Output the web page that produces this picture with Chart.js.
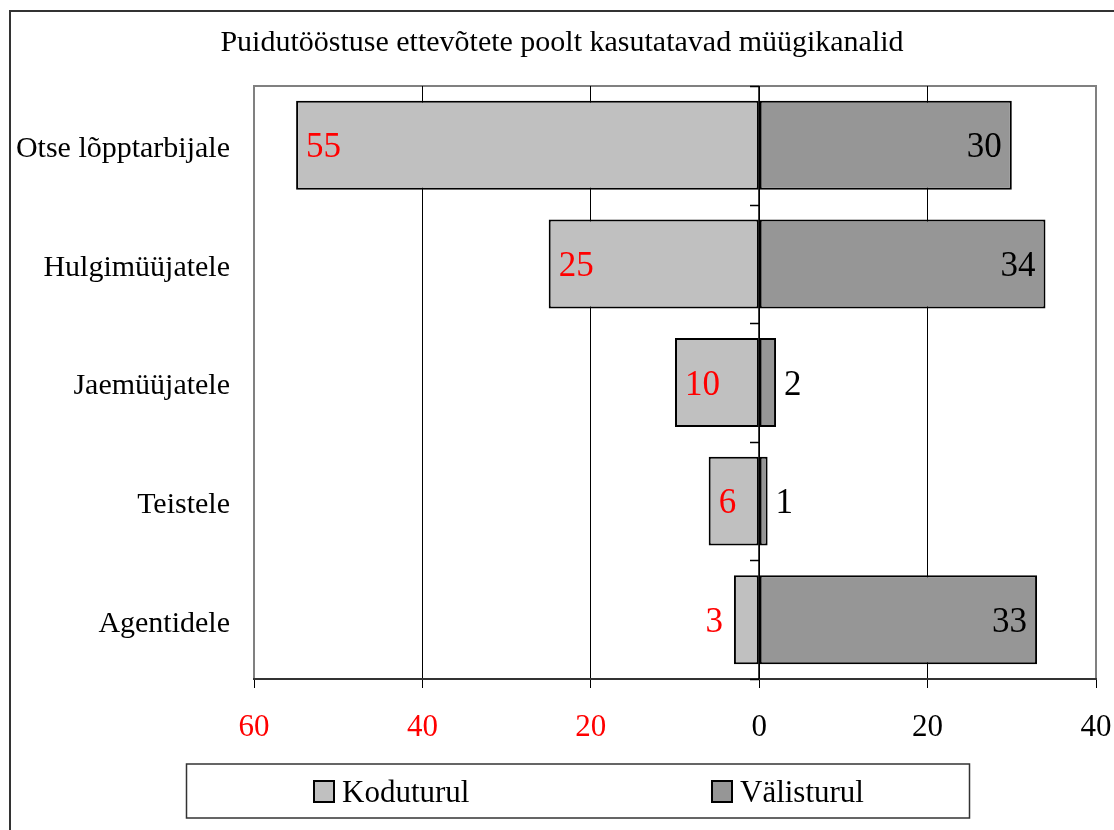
<!DOCTYPE html>
<html>
<head>
<meta charset="utf-8">
<script src="https://cdn.jsdelivr.net/npm/chart.js@4"></script>
<style>
    body { margin: 0; background: #fff; overflow: hidden; width: 1114px; height: 830px; position: relative; }
    #frame { position: absolute; left: 9px; top: 10px; width: 1200px; height: 900px; border: 2px solid #333; box-sizing: border-box; }
    #salesChart { position: absolute; left: 0; top: 0; }
</style>
</head>
<body>
<div id="frame"></div>
<canvas id="salesChart" width="1114" height="830"></canvas>
<script>
// Chart data
const channels = ['Otse lõpptarbijale', 'Hulgimüüjatele', 'Jaemüüjatele', 'Teistele', 'Agentidele'];
const domesticShare = [55, 25, 10, 6, 3];
const foreignShare = [30, 34, 2, 1, 33];
const seriesNames = ['Koduturul', 'Välisturul'];
const axisTicks = [-60, -40, -20, 0, 20, 40];
const chartTitle = 'Puidutööstuse ettevõtete poolt kasutatavad müügikanalid';

const serif = '"Liberation Serif", "Times New Roman", serif';

// Grey frame round the plot area (bottom edge is the black x axis)
const plotFrame = {
    id: 'plotFrame',
    beforeDraw(chart) {
        const { ctx, chartArea: a } = chart;
        ctx.save();
        ctx.strokeStyle = '#808080';
        ctx.lineWidth = 2;
        ctx.strokeRect(a.left, a.top, a.right - a.left, a.bottom - a.top);
        ctx.restore();
    }
};

// Vertical axis at zero with small category ticks
const zeroAxis = {
    id: 'zeroAxis',
    afterDatasetsDraw(chart) {
        const { ctx, scales: { x, y } } = chart;
        const x0 = Math.round(x.getPixelForValue(0));
        const n = chart.data.labels.length;
        const band = (y.bottom - y.top) / n;
        ctx.save();
        ctx.strokeStyle = '#000';
        ctx.lineWidth = 1.5;
        ctx.beginPath();
        ctx.moveTo(x0, y.top);
        ctx.lineTo(x0, y.bottom);
        for (let i = 0; i <= n; i++) {
            const yy = Math.round(y.top + band * i) + 0.5;
            ctx.moveTo(x0 - 9, yy);
            ctx.lineTo(x0, yy);
        }
        ctx.stroke();
        ctx.restore();
    }
};

// Value labels: red inside the domestic bars, black inside the foreign ones
const valueLabels = {
    id: 'valueLabels',
    afterDatasetsDraw(chart) {
        const ctx = chart.ctx;
        ctx.save();
        ctx.font = '35px ' + serif;
        ctx.textBaseline = 'middle';
        chart.data.datasets.forEach((ds, di) => {
            chart.getDatasetMeta(di).data.forEach((bar, i) => {
                const text = String(Math.abs(ds.data[i]));
                const w = ctx.measureText(text).width;
                const left = Math.min(bar.x, bar.base);
                const right = Math.max(bar.x, bar.base);
                const fits = right - left > w + 20;
                const ty = bar.y + 3;
                if (di === 0) {
                    ctx.fillStyle = '#FF0000';
                    if (fits) { ctx.textAlign = 'left'; ctx.fillText(text, left + 10, ty); }
                    else { ctx.textAlign = 'right'; ctx.fillText(text, left - 11, ty); }
                } else {
                    ctx.fillStyle = '#000';
                    if (fits) { ctx.textAlign = 'right'; ctx.fillText(text, right - 10, ty); }
                    else { ctx.textAlign = 'left'; ctx.fillText(text, right + 8, ty); }
                }
            });
        });
        ctx.restore();
    }
};

// Boxed legend under the axis
const boxLegend = {
    id: 'boxLegend',
    afterDraw(chart) {
        const ctx = chart.ctx;
        const xs = [314, 712];
        ctx.save();
        ctx.strokeStyle = '#333';
        ctx.lineWidth = 1.5;
        ctx.strokeRect(186.5, 764, 783, 54);
        ctx.font = '31px ' + serif;
        ctx.textAlign = 'left';
        ctx.textBaseline = 'alphabetic';
        chart.data.datasets.forEach((ds, i) => {
            ctx.fillStyle = ds.backgroundColor;
            ctx.fillRect(xs[i], 781, 20, 21);
            ctx.lineWidth = 2;
            ctx.strokeStyle = '#000';
            ctx.strokeRect(xs[i], 781, 20, 21);
            ctx.fillStyle = '#000';
            ctx.fillText(ds.label, xs[i] + 28, 802);
        });
        ctx.restore();
    }
};

const ctx = document.getElementById('salesChart').getContext('2d');
new Chart(ctx, {
    type: 'bar',
    data: {
        labels: channels,
        datasets: [{
            label: seriesNames[0],
            data: domesticShare.map(v => -v),
            backgroundColor: '#C0C0C0',
            borderColor: '#000',
            borderWidth: 2,
            borderSkipped: false,
            barPercentage: 0.75,
            categoryPercentage: 1
        }, {
            label: seriesNames[1],
            data: foreignShare,
            backgroundColor: '#969696',
            borderColor: '#000',
            borderWidth: 2,
            borderSkipped: false,
            barPercentage: 0.75,
            categoryPercentage: 1
        }]
    },
    options: {
        indexAxis: 'y',
        responsive: false,
        animation: false,
        layout: { padding: { left: 10, right: 0, top: 0, bottom: 0 } },
        plugins: {
            legend: { display: false },
            tooltip: { enabled: false },
            title: {
                display: true,
                text: chartTitle,
                color: '#000',
                font: { family: serif, size: 30, weight: 'normal' },
                padding: { top: 25, bottom: 25 }
            }
        },
        scales: {
            x: {
                stacked: true,
                min: -60,
                max: 40,
                afterBuildTicks: scale => { scale.ticks = axisTicks.map(v => ({ value: v })); },
                ticks: {
                    callback: v => Math.abs(v),
                    color: c => c.tick && c.tick.value < 0 ? '#FF0000' : '#000',
                    font: { family: serif, size: 31 },
                    padding: 21,
                    maxRotation: 0
                },
                grid: {
                    color: c => (c.tick && (c.tick.value === -60 || c.tick.value === 40)) ? 'rgba(0,0,0,0)' : '#000',
                    lineWidth: 1,
                    tickColor: '#000',
                    tickLength: 9
                },
                border: { color: '#333', width: 2 },
                afterFit: scale => {
                    scale.height = 151;
                    scale.paddingLeft = 0;
                    scale.paddingRight = 18;
                }
            },
            y: {
                stacked: true,
                grid: { display: false, drawTicks: false },
                border: { display: false },
                ticks: {
                    color: '#000',
                    font: { family: serif, size: 30 },
                    padding: 24,
                    labelOffset: 4
                },
                afterFit: scale => { scale.width = 244; }
            }
        }
    },
    plugins: [plotFrame, zeroAxis, valueLabels, boxLegend]
});
</script>
</body>
</html>
